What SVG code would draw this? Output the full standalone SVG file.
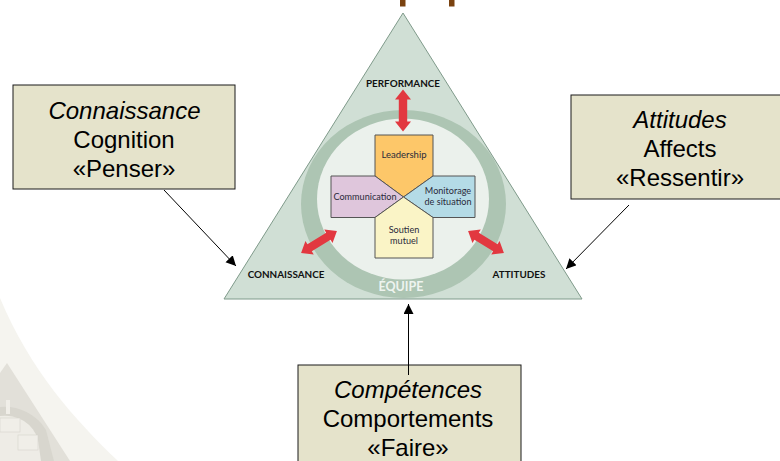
<svg xmlns="http://www.w3.org/2000/svg" width="780" height="461" viewBox="0 0 780 461">
<style>
.box{fill:#e5e3cb;stroke:#1a1a1a;stroke-width:1}
.t{font-family:"Liberation Sans",Arial,sans-serif;font-size:24px;fill:#000;text-anchor:middle}
.i{font-style:italic}
.lb{font-family:Lato,"Liberation Sans",sans-serif;font-size:9.900px;font-weight:700;fill:#111;text-anchor:middle}
.s{font-family:Lato,"Liberation Sans",sans-serif;font-size:9.100px;fill:#2a2a3a;text-anchor:middle}
.p{stroke:#555;stroke-width:1}
.red{fill:#e23840}
.conn{stroke:#000;stroke-width:1;fill:none;marker-end:url(#a)}
.wm{fill:#e2e0d9}
</style>
<defs>
<marker id="a" markerUnits="userSpaceOnUse" markerWidth="11" markerHeight="11" refX="10" refY="5" orient="auto"><path d="M0 0L10 5L0 10Z" fill="#000"/></marker>
<path id="dbl" d="M-21 0L-11-8V-4.200H11V-8L21 0L11 8V4.200H-11V8Z"/>
</defs>
<rect width="780" height="461" fill="#fff"/>
<g id="watermark">
<path d="M0 298C30 370 75 420 118 461H0Z" fill="#f5f4ef"/>
<path d="M7 363L70 461H0V373Z" class="wm"/>
<path d="M0 407A48 46 0 0 1 46 430L54 461H0Z" fill="#d8d6ce"/>
<path d="M0 416A34 32 0 0 1 38 440L41 461H0Z" fill="#eeece6"/>
<rect x="0" y="418" width="20" height="14" fill="#f0eee8" stroke="#d5d3cb" stroke-width=".6"/>
<rect x="18" y="435" width="20" height="15" fill="#f0eee8" stroke="#d5d3cb" stroke-width=".6"/>
<path d="M8 400V414" stroke="#f0eee8" stroke-width="4"/>
</g>
<g id="top-marks" fill="#7a4210">
<rect x="400" y="0" width="5.500" height="6.500"/>
<rect x="449" y="0" width="5.500" height="6.500"/>
</g>
<g id="triangle">
<path d="M403 13L582 299H224Z" fill="#d0dfd5" stroke="#7f9a8a" stroke-width="1"/>
</g>
<g id="equipe">
<ellipse cx="403.500" cy="204" rx="102.500" ry="94" fill="#adc5b3"/>
<ellipse cx="403" cy="199" rx="86" ry="80.500" fill="#ebf1ec"/>
<text x="401" y="291" font-family="Lato,'Liberation Sans',sans-serif" font-size="12.500" font-weight="700" fill="#eef4ef" text-anchor="middle">ÉQUIPE</text>
</g>
<g id="leadership">
<path d="M375 135H433V176L403.500 197L375 176Z" fill="#fdc769" class="p"/>
<text x="404" y="158" class="s" font-size="9.500" style="font-size:9.500px">Leadership</text>
</g>
<g id="communication">
<path d="M331 176H375L403.500 197L375 217.500H331Z" fill="#dfc6dc" class="p"/>
<text x="365" y="200" class="s">Communication</text>
</g>
<g id="monitorage">
<path d="M433 176H475V217.500H433L403.500 197Z" fill="#b4dbe6" class="p"/>
<text x="448" y="194" class="s">Monitorage</text>
<text x="448" y="205" class="s">de situation</text>
</g>
<g id="soutien">
<path d="M403.500 197L433 217.500V258H375V217.500Z" fill="#faf4c6" class="p"/>
<text x="404" y="233" class="s">Soutien</text>
<text x="404" y="244" class="s">mutuel</text>
</g>
<g id="arrows" class="red">
<use href="#dbl" transform="translate(403 110.500) rotate(90)"/>
<use href="#dbl" transform="translate(319 242) rotate(-31.400)"/>
<use href="#dbl" transform="translate(486 242) rotate(31.400)"/>
</g>
<g id="labels">
<text x="403" y="86.500" class="lb">PERFORMANCE</text>
<text x="286" y="278" class="lb">CONNAISSANCE</text>
<text x="519" y="278" class="lb">ATTITUDES</text>
</g>
<g id="box-connaissance">
<rect x="13" y="85" width="222" height="104" class="box"/>
<text x="124.500" y="119" class="t i">Connaissance</text>
<text x="124" y="148" class="t">Cognition</text>
<text x="124" y="177" class="t">«Penser»</text>
</g>
<g id="box-attitudes">
<rect x="571" y="95" width="225" height="104" class="box"/>
<text x="680" y="128" class="t i">Attitudes</text>
<text x="680" y="157" class="t">Affects</text>
<text x="680" y="186" class="t">«Ressentir»</text>
</g>
<g id="box-competences">
<rect x="298" y="365" width="223" height="110" class="box"/>
<text x="408" y="398" class="t i">Compétences</text>
<text x="408" y="427" class="t">Comportements</text>
<text x="408" y="456" class="t">«Faire»</text>
</g>
<g id="connectors">
<path d="M164 190L236 266" class="conn"/>
<path d="M629 205L566 269" class="conn"/>
<path d="M408.500 375V304" class="conn"/>
</g>
</svg>
